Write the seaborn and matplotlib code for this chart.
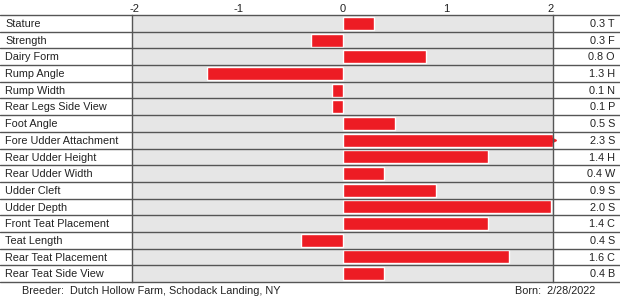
import matplotlib
matplotlib.use("Agg")
import matplotlib.pyplot as plt
import seaborn as sns
import pandas as pd
import numpy as np

traits = ["Stature", "Strength", "Dairy Form", "Rump Angle", "Rump Width",
          "Rear Legs Side View", "Foot Angle", "Fore Udder Attachment",
          "Rear Udder Height", "Rear Udder Width", "Udder Cleft", "Udder Depth",
          "Front Teat Placement", "Teat Length", "Rear Teat Placement",
          "Rear Teat Side View"]
values = [0.3, -0.3, 0.8, -1.3, -0.1, -0.1, 0.5, 2.3, 1.4, 0.4, 0.9, 2.0,
          1.4, -0.4, 1.6, 0.4]
letters = ["T", "F", "O", "H", "N", "P", "S", "S", "H", "W", "S", "S",
           "C", "S", "C", "B"]
ticks = [-2, -1, 0, 1, 2]
breeder = "Breeder:  Dutch Hollow Farm, Schodack Landing, NY"
born = "Born:  2/28/2022"

sns.set_style("white")
plt.rcParams['font.family'] = ['Liberation Sans', 'DejaVu Sans']

W, H = 620, 301
fig = plt.figure(figsize=(W / 100, H / 100), dpi=100)
L, R, T, B = 132, 553, 15, 282
ax = fig.add_axes([L / W, 1 - B / H, (R - L) / W, (B - T) / H])

XMAX = 2.02
clipped = [max(min(v, XMAX), -XMAX) for v in values]
df = pd.DataFrame({"trait": traits, "value": clipped})
sns.barplot(data=df, y="trait", x="value", orient="h", color="#ED1C24",
            saturation=1, width=0.78, ax=ax, zorder=3)

# arrow marker for clipped values
for i, v in enumerate(values):
    if v > XMAX:
        ax.plot([XMAX], [i], marker=">", color="#ED1C24", markersize=5,
                clip_on=False, zorder=4)

ax.set_xlim(-XMAX, XMAX)
ax.set_ylim(len(traits) - 0.5, -0.5)
ax.set_facecolor("#E6E6E6")
ax.set_xlabel("")
ax.set_ylabel("")
ax.set_yticks([])
ax.xaxis.tick_top()
ax.set_xticks(ticks)
ax.set_xticklabels([str(t) for t in ticks])
ax.tick_params(axis="x", length=0, pad=1, labelsize=8, colors="#222222")

for s in ["top", "bottom"]:
    ax.spines[s].set_visible(False)
for s in ["left", "right"]:
    ax.spines[s].set_color("#555555")
    ax.spines[s].set_linewidth(1.0)
    ax.spines[s].set_zorder(5)

axw = R - L
for k in range(len(traits) + 1):
    ax.axhline(k - 0.5, xmin=-L / axw, xmax=(W - L) / axw, color="#555555",
               lw=1.0, clip_on=False, zorder=5)

for i, (t, v, c) in enumerate(zip(traits, values, letters)):
    ax.text(-L / axw + 5 / axw, i + 0.04, t, transform=ax.get_yaxis_transform(),
            ha="left", va="center", fontsize=7.8, color="#222222")
    ax.text((W - L - 5) / axw, i + 0.04, f"{abs(v):.1f} {c}",
            transform=ax.get_yaxis_transform(), ha="right", va="center",
            fontsize=7.8, color="#222222")

fig.text(22 / W, 1 - 291 / H, breeder, ha="left", va="center",
         fontsize=7.8, color="#222222")
fig.text(515 / W, 1 - 291 / H, born, ha="left", va="center",
         fontsize=7.8, color="#222222")

fig.savefig("out.png", dpi=100)
